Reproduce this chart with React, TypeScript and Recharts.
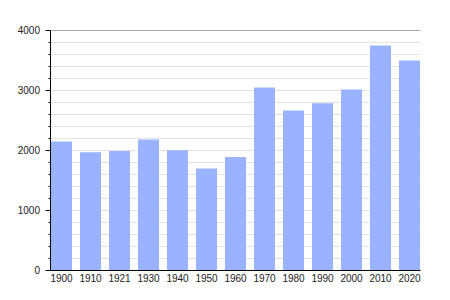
import { BarChart, Bar, XAxis, YAxis, CartesianGrid } from 'recharts';

const years = ['1900', '1910', '1921', '1930', '1940', '1950', '1960', '1970', '1980', '1990', '2000', '2010', '2020'];
const population = [2150, 1970, 1990, 2185, 2005, 1700, 1890, 3050, 2667, 2789, 3017, 3750, 3500];
const minorTicks = [0, 200, 400, 600, 800, 1000, 1200, 1400, 1600, 1800, 2000, 2200, 2400, 2600, 2800, 3000, 3200, 3400, 3600, 3800, 4000];
const majorTicks = [0, 1000, 2000, 3000, 4000];

const data = years.map((year, i) => ({ year, value: population[i] }));

const FONT = '"Liberation Sans", Arial, sans-serif';

function YTick({ x, y, payload }: { x?: number; y?: number; payload?: { value: number } }) {
  const cx = x ?? 0;
  const cy = y ?? 0;
  const v = payload?.value ?? 0;
  const major = v % 1000 === 0;
  return (
    <g>
      <line x1={cx - (major ? 5 : 2)} x2={cx} y1={cy} y2={cy} stroke="#000" strokeWidth={1} />
      {major && (
        <text x={cx - 10.5} y={cy + 3.8} textAnchor="end" style={{ fontSize: 10, fontFamily: FONT, fill: '#222' }}>
          {v}
        </text>
      )}
    </g>
  );
}

export default function App() {
  return (
    <div style={{ position: 'absolute', top: 0, left: 0, background: '#fff' }}>
      <BarChart width={450} height={300} data={data} margin={{ top: 30.5, right: 29.5, bottom: 0, left: 0.5 }}>
        <CartesianGrid yAxisId="left" vertical={false} stroke="#e2e2e2" />
        <CartesianGrid yAxisId="major" vertical={false} stroke="#ababab" />
        <XAxis
          dataKey="year"
          height={29.5}
          padding={{ left: -3.5, right: -3.5 }}
          tickLine={false}
          tickSize={0}
          tickMargin={4.5}
          interval={0}
          axisLine={{ stroke: '#000' }}
          tick={{ fontSize: 10, fontFamily: FONT, fill: '#222' }}
        />
        <YAxis
          yAxisId="left"
          width={50}
          domain={[0, 4000]}
          ticks={minorTicks}
          interval={0}
          tickLine={false}
          tickSize={0}
          tickMargin={0}
          axisLine={{ stroke: '#000' }}
          tick={<YTick />}
        />
        <YAxis yAxisId="major" hide domain={[0, 4000]} ticks={majorTicks} interval={0} />
        <Bar yAxisId="left" dataKey="value" fill="#99b3ff" barSize={21} isAnimationActive={false} />
      </BarChart>
    </div>
  );
}
